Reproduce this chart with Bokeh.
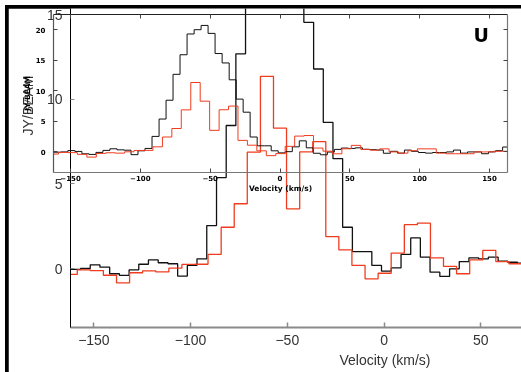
import math
from bokeh.plotting import figure
from bokeh.models import Div, Label, Range1d, LinearAxis, FixedTicker, Title
from bokeh.embed import file_html
from bokeh.resources import INLINE

# ---------------- data ----------------
black_vel = [-164.4, -159.4, -154.4, -149.4, -144.4, -139.3, -134.3, -129.3, -124.3, -119.3,
             -114.2, -109.2, -104.2, -99.2, -94.2, -89.1, -84.1, -79.1, -74.1, -69.1,
             -64.0, -59.0, -54.0, -49.0, -44.0, -38.9, -33.9, -28.9, -23.9, -18.9,
             -13.8, -8.8, -3.8, 1.2, 6.3, 11.3, 16.3, 21.3, 26.3, 31.4,
             36.4, 41.4, 46.4, 51.4, 56.5, 61.5, 66.5, 71.5, 76.5, 81.6,
             86.6, 91.6, 96.6, 101.6, 106.7, 111.7, 116.7, 121.7, 126.7, 131.8,
             136.8, 141.8, 146.8, 151.8, 156.9, 161.9, 166.9]
black_flux = [-0.05, -0.05, 0.0, 0.22, 0.08, -0.31, -0.41, -0.08, 0.25, 0.51,
              0.34, 0.28, -0.45, 0.18, 0.57, 2.54, 5.38, 8.46, 12.7, 15.9,
              19.3, 20.0, 20.7, 19.4, 16.1, 14.56, 11.8, 8.64, 6.5, 2.44,
              1.0, 1.0, 0.18, -0.16, 0.04, 0.83, 1.81, 0.67, -0.22, -0.47,
              -0.02, 0.41, 0.63, 0.57, 0.67, 0.43, 0.37, 0.31, -0.22, 0.1,
              -0.2, 0.3, 0.1, -0.1, -0.2, -0.1, -0.1, 0.0, 0.3, -0.2,
              0.0, 0.0, -0.3, 0.0, 0.2, 0.8, 0.0]

red_vel = [-168.7, -162.0, -155.2, -148.5, -141.7, -134.9, -128.2, -121.4, -114.6, -107.9,
           -101.1, -94.4, -87.6, -80.8, -74.1, -67.3, -60.5, -53.8, -47.0, -40.2,
           -33.5, -26.7, -20.0, -13.2, -6.4, 0.3, 7.1, 13.9, 20.6, 27.4,
           34.1, 40.9, 47.7, 54.4, 61.2, 68.0, 74.7, 81.5, 88.2, 95.0,
           101.8, 108.5, 115.3, 122.1, 128.8, 135.6, 142.4, 149.1, 155.9, 162.6, 169.4]
red_flux = [-0.35, -0.35, -0.08, -0.12, -0.4, -0.85, -0.25, -0.14, -0.2, 0.02,
            0.24, 0.25, 0.83, 2.44, 3.83, 6.88, 11.36, 8.3, 3.53, 6.9,
            7.5, 1.89, 1.1, 0.18, -0.61, -0.28, 0.91, 2.59, 2.68, 0.63,
            0.12, -0.31, 0.51, 1.07, 0.41, 0.28, 0.5, 0.0, -0.2, 0.2,
            0.5, 0.5, -0.2, -0.3, -0.3, -0.3, 0.0, 0.0, 0.1, 0.1, 0.1]

vel_ticks = [-150, -100, -50, 0, 50, 100, 150]
main_flux_ticks = [0, 5, 10, 15]
inset_flux_ticks = [0, 5, 10, 15, 20]
x_title = "Velocity (km/s)"
y_title = "JY/BEAM"
panel_tag = "U"

BLACK = "#111111"
RED = "#f03c1e"
MAIN_FONT = "Liberation Sans"
INSET_FONT = "DejaVu Sans"

# ---------------- main (enlarged, cropped) panel ----------------
main = figure(width=514, height=364,
              x_range=Range1d(-162.1, 71.6), y_range=Range1d(-3.49, 15.38),
              output_backend="svg", toolbar_location=None,
              min_border_left=62, min_border_right=0, min_border_top=0, min_border_bottom=45,
              outline_line_color=None, background_fill_color="white", border_fill_color="white",
              styles={"position": "fixed", "left": "8px", "top": "8px"})
main.grid.visible = False

xa = main.xaxis[0]
xa.ticker = FixedTicker(ticks=vel_ticks)
xa.axis_line_color = "#8a8a8a"
xa.axis_line_width = 2
xa.major_tick_line_color = "#8a8a8a"
xa.major_tick_line_width = 1.5
xa.major_tick_in = 5
xa.major_tick_out = 0
xa.minor_tick_line_color = None
xa.major_label_standoff = 7
xa.major_label_text_font = MAIN_FONT
xa.major_label_text_font_size = "14px"
xa.major_label_text_color = "#333333"

ya = main.yaxis[0]
ya.ticker = FixedTicker(ticks=main_flux_ticks)
ya.axis_line_color = "#000000"
ya.axis_line_width = 1
ya.major_tick_line_color = "#8a8a8a"
ya.major_tick_in = 4
ya.major_tick_out = 0
ya.minor_tick_line_color = None
ya.major_label_standoff = 8
ya.major_label_text_font = MAIN_FONT
ya.major_label_text_font_size = "14px"
ya.major_label_text_color = "#333333"

main.step(black_vel, black_flux, mode="center", line_color=BLACK, line_width=1.3)
main.step(red_vel, red_flux, mode="center", line_color=RED, line_width=1.3)

main.add_layout(Title(text=x_title, align="left", offset=269, standoff=4,
                      text_font=MAIN_FONT, text_font_size="14px", text_font_style="normal",
                      text_color="#333333"), "below")
main.add_layout(Title(text=y_title, align="right", offset=67, standoff=16,
                      text_font=MAIN_FONT, text_font_size="14px", text_font_style="normal",
                      text_color="#333333"), "left")

# ---------------- inset (full range) panel ----------------
inset = figure(width=495, height=186,
               x_range=Range1d(-162.2, 162.9), y_range=Range1d(-3.37, 22.49),
               output_backend="svg", toolbar_location=None,
               min_border_left=35, min_border_right=6, min_border_top=5, min_border_bottom=22,
               outline_line_color=None, background_fill_color=None, border_fill_color=None,
               styles={"position": "fixed", "left": "18px", "top": "9px"})
inset.grid.visible = False


def style_inset_axis(ax, ticks, show_labels, line_color):
    ax.ticker = FixedTicker(ticks=ticks)
    ax.axis_line_color = line_color
    ax.axis_line_width = 1.2
    ax.major_tick_line_color = "#444444"
    ax.major_tick_in = 4
    ax.major_tick_out = 0
    ax.minor_tick_line_color = None
    ax.major_label_text_font = INSET_FONT
    ax.major_label_text_font_style = "bold"
    if show_labels:
        ax.major_label_text_font_size = "7px"
        ax.major_label_text_color = "#000000"
    else:
        ax.major_label_text_font_size = "1px"
        ax.major_label_text_color = None
        ax.major_label_standoff = 0


ixa = inset.xaxis[0]
style_inset_axis(ixa, vel_ticks, True, "#777777")
ixa.major_label_standoff = 2
ixa.axis_label = x_title
ixa.axis_label_standoff = 0
ixa.axis_label_text_font = INSET_FONT
ixa.axis_label_text_font_style = "bold"
ixa.axis_label_text_font_size = "7.5px"
ixa.axis_label_text_color = "#000000"

iya = inset.yaxis[0]
style_inset_axis(iya, inset_flux_ticks, True, "#555555")
iya.major_label_standoff = 8
iya.axis_label = y_title
iya.axis_label_standoff = 1
iya.axis_label_text_font = INSET_FONT
iya.axis_label_text_font_style = "bold"
iya.axis_label_text_font_size = "7.5px"
iya.axis_label_text_color = "#000000"

top_ax = LinearAxis()
style_inset_axis(top_ax, vel_ticks, False, "#222222")
inset.add_layout(top_ax, "above")
right_ax = LinearAxis()
style_inset_axis(right_ax, inset_flux_ticks, False, "#777777")
inset.add_layout(right_ax, "right")

inset.step(black_vel, black_flux, mode="center", line_color=BLACK, line_width=1.0)
inset.step(red_vel, red_flux, mode="center", line_color=RED, line_width=1.0)

inset.add_layout(Label(x=144, y=19.2, text=panel_tag, text_align="center", text_baseline="middle",
                       text_font=INSET_FONT, text_font_style="bold", text_font_size="19px",
                       text_color="#000000"))

# ---------------- black page backdrop ----------------
backdrop = Div(text="", width=521, height=372,
               styles={"position": "fixed", "left": "0px", "top": "0px",
                       "background-color": "#000000", "z-index": "-1"})

p = [backdrop, main, inset]
open("out.html", "w").write(file_html(p, INLINE))
